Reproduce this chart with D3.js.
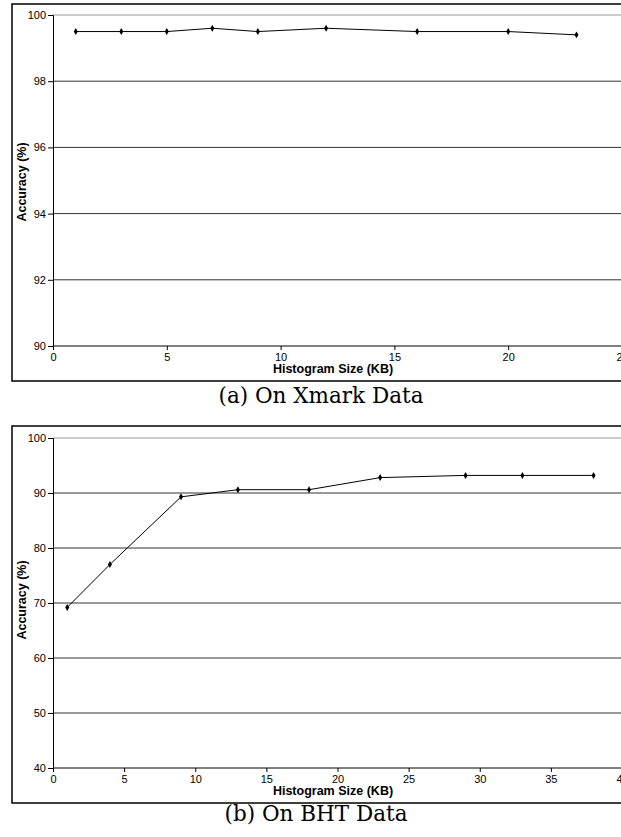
<!DOCTYPE html>
<meta charset="utf-8">
<style>
  body { margin: 0; background: #fff; overflow: hidden; }
  svg { display: block; }
  .tick text { font-family: "Liberation Sans", Arial, sans-serif; font-size: 11px; fill: #000; }
  .axis-title { font-family: "Liberation Sans", Arial, sans-serif; font-size: 12.5px; font-weight: bold; }
  .caption { font-family: "DejaVu Serif", "Liberation Serif", serif; font-size: 21.5px; }
</style>
<body>
<div id="chart"></div>
<script src="https://d3js.org/d3.v7.min.js"></script>
<script>
  // panel (a) Xmark
  var xmarkSize = [1, 3, 5, 7, 9, 12, 16, 20, 23];
  var xmarkAcc = [99.5, 99.5, 99.5, 99.6, 99.5, 99.6, 99.5, 99.5, 99.4];
  var xmarkXTicks = [0, 5, 10, 15, 20, 25];
  var xmarkYTicks = [90, 92, 94, 96, 98, 100];

  // panel (b) BHT
  var bhtSize = [1, 4, 9, 13, 18, 23, 29, 33, 38];
  var bhtAcc = [69.2, 77.0, 89.3, 90.6, 90.6, 92.8, 93.2, 93.2, 93.2];
  var bhtXTicks = [0, 5, 10, 15, 20, 25, 30, 35, 40];
  var bhtYTicks = [40, 50, 60, 70, 80, 90, 100];

  var W = 621, H = 837;
  var svg = d3.select("#chart").append("svg")
    .attr("width", W).attr("height", H);

  function panel(o) {
    var g = svg.append("g");

    // outer frame (runs past the right edge, like the cropped original)
    g.append("rect")
      .attr("x", 12).attr("y", o.frameTop)
      .attr("width", 640).attr("height", o.frameBottom - o.frameTop)
      .attr("fill", "none").attr("stroke", "#000").attr("stroke-width", 1.5);

    var x = d3.scaleLinear().domain(o.xDomain).range([53, 622]);
    var y = d3.scaleLinear().domain(o.yDomain).range([o.plotBottom, o.plotTop]);

    // gridlines
    g.append("g").selectAll("line")
      .data(o.yTicks.slice(1))
      .join("line")
      .attr("x1", 53).attr("x2", 640)
      .attr("y1", function (d) { return y(d); })
      .attr("y2", function (d) { return y(d); })
      .attr("stroke", function (d) { return d === o.yDomain[1] ? "#999" : "#333"; })
      .attr("stroke-width", 1);

    var yAxis = g.append("g")
      .attr("transform", "translate(53,0)")
      .call(d3.axisLeft(y).tickValues(o.yTicks).tickSize(5).tickPadding(2));
    yAxis.select(".domain").attr("stroke", "#000");

    var xAxis = g.append("g")
      .attr("transform", "translate(0," + o.plotBottom + ")")
      .call(d3.axisBottom(x).tickValues(o.xTicks).tickSize(4).tickPadding(3));
    xAxis.select(".domain").attr("stroke", "#000").attr("d", "M53,0H640");

    g.append("text")
      .attr("class", "axis-title")
      .attr("x", 333).attr("y", o.plotBottom + 27)
      .attr("text-anchor", "middle")
      .text("Histogram Size (KB)");

    g.append("text")
      .attr("class", "axis-title")
      .attr("transform", "translate(26," + o.yTitleY + ") rotate(-90)")
      .attr("text-anchor", "middle")
      .text("Accuracy (%)");

    var line = d3.line()
      .x(function (d, i) { return x(o.xs[i]); })
      .y(function (d) { return y(d); });

    g.append("path")
      .datum(o.ys)
      .attr("d", line)
      .attr("fill", "none")
      .attr("stroke", "#000")
      .attr("stroke-width", 1);

    g.append("g").selectAll("path")
      .data(o.ys)
      .join("path")
      .attr("d", d3.symbol(d3.symbolDiamond, 14))
      .attr("transform", function (d, i) {
        return "translate(" + x(o.xs[i]) + "," + y(d) + ")";
      })
      .attr("fill", "#000");

    svg.append("text")
      .attr("class", "caption")
      .attr("x", o.capX).attr("y", o.capY)
      .attr("text-anchor", "middle")
      .text(o.caption);
  }

  panel({
    frameTop: 4, frameBottom: 381,
    plotTop: 15, plotBottom: 346,
    xDomain: [0, 25], yDomain: [90, 100],
    xTicks: xmarkXTicks, yTicks: xmarkYTicks,
    xs: xmarkSize, ys: xmarkAcc,
    yTitleY: 182,
    caption: "(a) On Xmark Data", capX: 321, capY: 403
  });

  panel({
    frameTop: 426, frameBottom: 803,
    plotTop: 438, plotBottom: 768,
    xDomain: [0, 40], yDomain: [40, 100],
    xTicks: bhtXTicks, yTicks: bhtYTicks,
    xs: bhtSize, ys: bhtAcc,
    yTitleY: 600,
    caption: "(b) On BHT Data", capX: 316, capY: 821
  });
</script>
</body>
